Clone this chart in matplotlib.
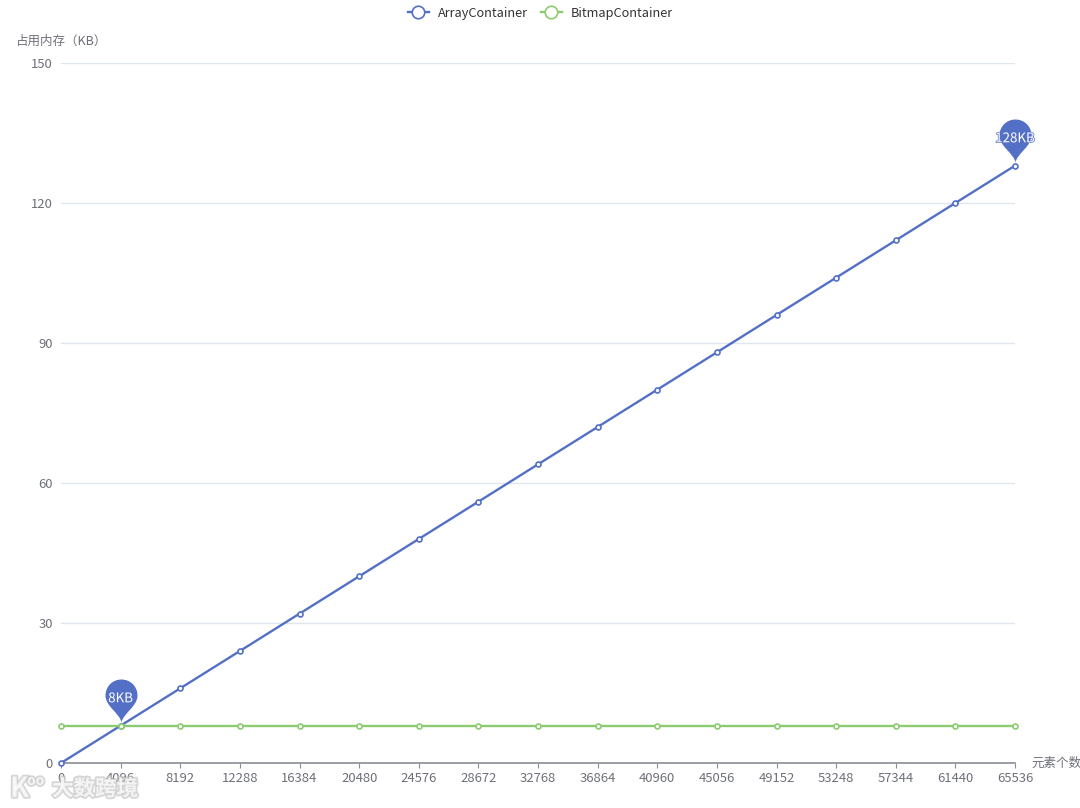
import matplotlib
matplotlib.use("Agg")
import matplotlib.pyplot as plt
import matplotlib.patheffects as pe
from matplotlib.path import Path

plt.rcParams['font.family'] = ['Noto Sans CJK SC', 'DejaVu Sans']

elements = [0, 4096, 8192, 12288, 16384, 20480, 24576, 28672, 32768,
            36864, 40960, 45056, 49152, 53248, 57344, 61440, 65536]
array_kb = [0, 8, 16, 24, 32, 40, 48, 56, 64, 72, 80, 88, 96, 104, 112, 120, 128]
bitmap_kb = [8, 8, 8, 8, 8, 8, 8, 8, 8, 8, 8, 8, 8, 8, 8, 8, 8]
y_ticks = [0, 30, 60, 90, 120, 150]

# which points of the array series get a pin, and what it says
pin_x = [4096, 65536]
pin_y = [8, 128]
pin_labels = ["8KB", "128KB"]

BLUE = "#5470c6"
GREEN = "#8ccb70"
TEXT = "#6e7079"

W, H = 1080, 808


# teardrop pin, units are pixels, the data point sits at (0, 0)
def pin_path():
    r = 16
    tip = 4
    c = tip + 27
    verts = [
        (0, tip),
        (-1.5, tip + 9), (-r, c - 11), (-r, c),
        (-r, c + 9), (-9, c + r), (0, c + r),
        (9, c + r), (r, c + 9), (r, c),
        (r, c - 11), (1.5, tip + 9), (0, tip),
        (0, tip),
    ]
    # -max gets added so the marker box stays centred on the point
    verts = verts + [(0, -(c + r))]
    codes = [Path.MOVETO] + [Path.CURVE4] * 12 + [Path.CLOSEPOLY] + [Path.MOVETO]
    return Path(verts, codes), c + r


fig = plt.figure(figsize=(W / 100, H / 100), dpi=100, facecolor="white")
ax = fig.add_axes([61 / W, 1 - 763 / H, (1015 - 61) / W, (763 - 63) / H])

ax.set_xlim(0, 65536)
ax.set_ylim(0, 150)

ax.set_yticks(y_ticks)
ax.set_xticks(elements)
ax.set_xticklabels([str(e) for e in elements])
ax.grid(axis="y", color="#e0e6f1", linewidth=1)
ax.set_axisbelow(True)

for side in ["top", "right", "left"]:
    ax.spines[side].set_visible(False)
ax.spines["bottom"].set_color("#8a8d96")
ax.spines["bottom"].set_linewidth(1.2)
ax.tick_params(axis="x", length=3.6, width=0.8, color="#8a8d96", labelcolor=TEXT,
               labelsize=9.4, pad=3)
ax.tick_params(axis="y", length=0, labelcolor=TEXT, labelsize=9.4, pad=6)

line_array, = ax.plot(elements, array_kb, color=BLUE, linewidth=1.7, marker="o", markersize=3.6,
                      markerfacecolor="white", markeredgewidth=1.2, clip_on=False, zorder=3)
line_bitmap, = ax.plot(elements, bitmap_kb, color=GREEN, linewidth=1.7, marker="o", markersize=3.6,
                       markerfacecolor="white", markeredgewidth=1.2, clip_on=False, zorder=4)

# pins on top of the lines
path, extent = pin_path()
ax.plot(pin_x, pin_y, linestyle="none", marker=path, markersize=2 * extent * 0.72,
        color=BLUE, markeredgewidth=0, clip_on=False, zorder=5)
for x, y, label in zip(pin_x, pin_y, pin_labels):
    ax.annotate(label, (x, y), xytext=(0, 19.7), textcoords="offset points", ha="center", va="center",
                color="white", fontsize=9.6, zorder=6, annotation_clip=False,
                path_effects=[pe.withStroke(linewidth=1, foreground=BLUE)])

fig.legend([line_array, line_bitmap], ["ArrayContainer", "BitmapContainer"], ncol=2,
           loc="center", bbox_to_anchor=(540.5 / W, 1 - 13 / H), frameon=False, fontsize=9.2,
           labelcolor="#333333", handlelength=1.7, columnspacing=0.96, handletextpad=0.7,
           markerscale=2.5)

# axis names
fig.text(15 / W, 1 - 41 / H, "占用内存（KB）", color=TEXT, fontsize=9, ha="left", va="center")
fig.text(1031 / W, 1 - 763 / H, "元素个数", color=TEXT, fontsize=9, ha="left", va="center")

# watermark over the bottom left corner, see-through so the tick labels show
stroke = [pe.withStroke(linewidth=2.5, foreground="#c4c4c4", alpha=0.7)]
fig.text(52 / W, 1 - 789 / H, "大数跨境", color="white", fontsize=15.5, fontweight="bold",
         ha="left", va="center", alpha=0.75, path_effects=stroke)
fig.text(10 / W, 1 - 789 / H, "K", color="white", fontsize=20, fontweight="bold",
         ha="left", va="center", alpha=0.75, path_effects=stroke)
fig.text(27 / W, 1 - 781 / H, "oo", color="white", fontsize=10, fontweight="bold",
         ha="left", va="center", alpha=0.75, path_effects=stroke)

fig.savefig("out.png", dpi=100)
